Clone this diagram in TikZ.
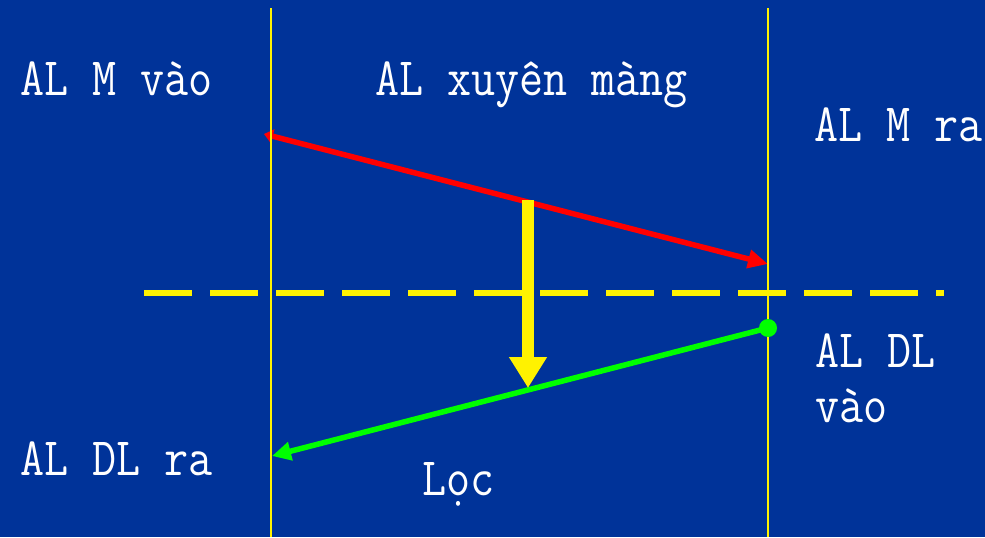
\documentclass[tikz,border=0pt]{standalone}
\usepackage{fontspec}
\usepackage{graphicx}
\usetikzlibrary{arrows.meta}
\definecolor{bgblue}{RGB}{0,51,153}
\definecolor{lgreen}{RGB}{0,255,0}
\newcommand{\labfont}{\fontsize{54}{55}\selectfont\ttfamily\addfontfeature{FakeBold=2.5}}
\newcommand{\sq}[1]{\scalebox{0.865}[1]{#1}}
\tikzset{lab/.style={text=white,inner sep=0pt,anchor=base west,font=\labfont}}

\begin{document}
\begin{tikzpicture}[x=1pt,y=-1pt]
    \fill [bgblue] (0,0) rectangle (985,537);
    \coordinate (V1) at (271,8);
    \coordinate (V2) at (271,537);
    \coordinate (V3) at (768,8);
    \coordinate (V4) at (768,537);
    \coordinate (D1) at (144,293);
    \coordinate (D2) at (944,293);
    \coordinate (R1) at (264,134);
    \coordinate (R2) at (768,264);
    \coordinate (G1) at (768,328);
    \coordinate (G2) at (272,456);
    \coordinate (Y1) at (528,200);
    \coordinate (Y2) at (528,388);
    \node [lab] (mvao) at (20,95) {\sq{AL M vào}};
    \node [lab] (xuyen) at (375,95) {\sq{AL xuyên màng}};
    \node [lab] (mra) at (814,141) {\sq{AL M ra}};
    \node [lab,anchor=north west,align=left] (dlvao) at (815,334) {\sq{AL DL}\\\sq{vào}};
    \node [lab] (dlra) at (20,475) {\sq{AL DL ra}};
    \node [lab] (loc) at (422,495) {\sq{Lọc}};
    \draw [yellow,line width=6pt,dash pattern=on 48pt off 18pt] (D1) -- (D2);
    \draw [red,line width=5.5pt,{Triangle[length=9pt,width=14pt]}-{Triangle[length=20pt,width=18pt]}] (R1) -- (R2);
    \draw [lgreen,line width=5.5pt,-{Triangle[length=19pt,width=18pt]}] (G1) -- (G2);
    \draw [yellow,line width=12pt,-{Triangle[length=31pt,width=36pt]}] (Y1) -- (Y2);
    \draw [yellow,line width=2pt] (V1) -- (V2);
    \draw [yellow,line width=2pt] (V3) -- (V4);
    \fill [lgreen] (G1) circle (9pt);
\end{tikzpicture}
\end{document}
